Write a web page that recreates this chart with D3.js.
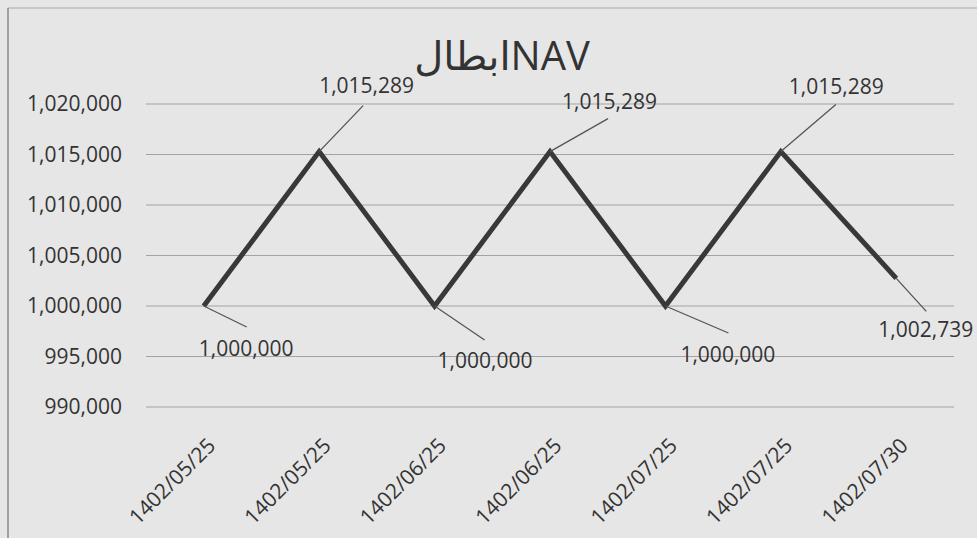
<!DOCTYPE html>
<html>
<head>
<meta charset="utf-8">
<script src="https://cdn.jsdelivr.net/npm/d3@7"></script>
<style>
  html, body { margin: 0; padding: 0; background: #e6e6e6; }
  svg { display: block; }
  text { font-family: "Open Sans", "DejaVu Sans", sans-serif; fill: #333; }
</style>
</head>
<body>
<script>
// ---- data ----
const categories = ["1402/05/25", "1402/05/25", "1402/06/25", "1402/06/25", "1402/07/25", "1402/07/25", "1402/07/30"];
const navValues = [1000000, 1015289, 1000000, 1015289, 1000000, 1015289, 1002739];
const yTicks = [990000, 995000, 1000000, 1005000, 1010000, 1015000, 1020000];
const titleText = "ابطالNAV";

// ---- layout (label placement offsets relative to point) ----
const leaderEnd = [[43, 21], [44, -46], [50, 34], [58, -33], [63, 27], [55, -47], [30, 33]];
const labelPos = [[-5, 50], [0, -59], [3, 62], [12, -43], [15, 56], [8, -58], [-18, 59]];

const W = 977, H = 538;
const svg = d3.select("body").append("svg").attr("width", W).attr("height", H);

svg.append("rect").attr("width", W).attr("height", H).attr("fill", "#e6e6e6");
// chart frame (top and left edges visible)
svg.append("line").attr("x1", 8).attr("x2", W).attr("y1", 8).attr("y2", 8)
  .attr("stroke", "#a8a8a8").attr("stroke-width", 1);
svg.append("line").attr("x1", 8).attr("x2", 8).attr("y1", 8).attr("y2", H)
  .attr("stroke", "#8a8a8a").attr("stroke-width", 1.5);

const x = d3.scaleBand().domain(d3.range(categories.length)).range([146, 954]).padding(0);
const y = d3.scaleLinear().domain([990000, 1020000]).range([407, 104]);
const cx = i => x(i) + x.bandwidth() / 2;
const fmt = d3.format(",");

// gridlines
svg.append("g").selectAll("line").data(yTicks).join("line")
  .attr("x1", 146).attr("x2", 954)
  .attr("y1", d => y(d)).attr("y2", d => y(d))
  .attr("stroke", "#a3a3a3").attr("stroke-width", 1.1);

// y axis labels
const yAxis = d3.axisLeft(y).tickValues(yTicks).tickFormat(fmt).tickSize(0).tickPadding(0);
const gy = svg.append("g").attr("transform", "translate(122,0)").call(yAxis);
gy.select(".domain").remove();
gy.selectAll("text").attr("font-size", 21).attr("fill", "#333")
  .style("font-family", '"Open Sans", "DejaVu Sans", sans-serif');

// x axis labels
const xAxis = d3.axisBottom(x).tickFormat(i => categories[i]).tickSize(0).tickPadding(0);
const gx = svg.append("g").attr("transform", "translate(0,0)").call(xAxis);
gx.select(".domain").remove();
gx.selectAll(".tick text")
  .attr("font-size", 21).attr("fill", "#333")
  .style("font-family", '"Open Sans", "DejaVu Sans", sans-serif')
  .attr("text-anchor", "end")
  .attr("dy", 0).attr("y", 0).attr("x", 0)
  .attr("transform", "translate(13,447) rotate(-45)");

// line
const line = d3.line().x((d, i) => cx(i)).y(d => y(d));
svg.append("path").datum(navValues)
  .attr("d", line).attr("fill", "none")
  .attr("stroke", "#383838").attr("stroke-width", 5)
  .attr("stroke-linejoin", "miter");

// leader lines
svg.append("g").selectAll("line").data(navValues).join("line")
  .attr("x1", (d, i) => cx(i)).attr("y1", d => y(d))
  .attr("x2", (d, i) => cx(i) + leaderEnd[i][0]).attr("y2", (d, i) => y(d) + leaderEnd[i][1])
  .attr("stroke", "#555").attr("stroke-width", 1.3);

// data labels
svg.append("g").selectAll("text").data(navValues).join("text")
  .attr("x", (d, i) => cx(i) + labelPos[i][0])
  .attr("y", (d, i) => y(d) + labelPos[i][1])
  .attr("font-size", 21)
  .text(d => fmt(d));

// title
svg.append("text").attr("x", 502).attr("y", 70)
  .attr("text-anchor", "middle").attr("font-size", 40)
  .attr("direction", "ltr")
  .text(titleText);
</script>
</body>
</html>
